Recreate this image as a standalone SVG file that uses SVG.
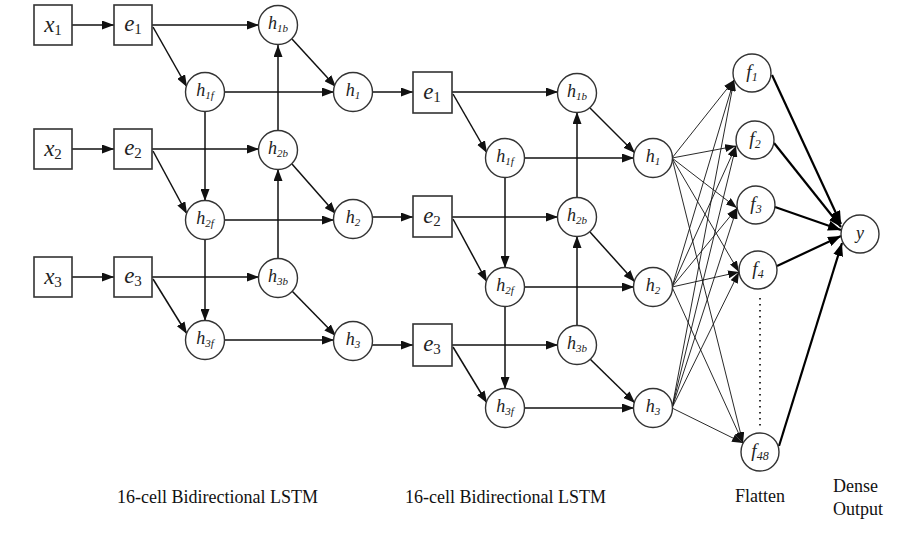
<svg xmlns="http://www.w3.org/2000/svg" width="910" height="537" viewBox="0 0 910 537">
<style>
.bx{fill:#fff;stroke:#333;stroke-width:1.6}
.cr{fill:#fff;stroke:#333;stroke-width:1.4}
.ln{stroke:#111;stroke-width:1.5;fill:none;marker-end:url(#ah)}
.fn{stroke:#111;stroke-width:0.9;fill:none;marker-end:url(#ahs)}
.th{stroke:#000;stroke-width:2.2;fill:none;marker-end:url(#ahb)}
.dt{stroke:#333;stroke-width:2;stroke-dasharray:1.5 4.5;fill:none}
.big{font-family:"Liberation Serif",serif;font-style:italic;font-size:23px;fill:#222}
.bsub{font-family:"Liberation Serif",serif;font-size:15px;fill:#222}
.hl{font-family:"Liberation Serif",serif;font-style:italic;font-size:18px;fill:#222}
.hs{font-family:"Liberation Serif",serif;font-style:italic;font-size:11px;fill:#222}
.fl{font-family:"Liberation Serif",serif;font-style:italic;font-size:19px;fill:#222}
.fs{font-family:"Liberation Serif",serif;font-size:12px;fill:#222}
.lab{font-family:"Liberation Serif",serif;font-size:18px;fill:#111}
</style>
<defs>
<marker id="ah" viewBox="0 0 12 9" refX="12" refY="4.5" markerWidth="12" markerHeight="9" markerUnits="userSpaceOnUse" orient="auto"><path d="M0,0 L12,4.5 L0,9 z" fill="#111"/></marker>
<marker id="ahs" viewBox="0 0 11 8" refX="11" refY="4" markerWidth="11" markerHeight="8" markerUnits="userSpaceOnUse" orient="auto"><path d="M0,0 L11,4 L0,8 z" fill="#111"/></marker>
<marker id="ahb" viewBox="0 0 13 10" refX="13" refY="5" markerWidth="13" markerHeight="10" markerUnits="userSpaceOnUse" orient="auto"><path d="M0,0 L13,5 L0,10 z" fill="#000"/></marker>
</defs>

<g id="connectors">
<line class="ln" x1="72" y1="25" x2="114" y2="25"/>
<line class="ln" x1="72" y1="149" x2="114" y2="149"/>
<line class="ln" x1="72" y1="277" x2="114" y2="277"/>
<line class="ln" x1="152" y1="25" x2="259" y2="25"/>
<line class="ln" x1="152" y1="149" x2="259" y2="149"/>
<line class="ln" x1="152" y1="277" x2="259" y2="277"/>
<line class="ln" x1="153" y1="27" x2="187" y2="87"/>
<line class="ln" x1="153" y1="151" x2="187" y2="214"/>
<line class="ln" x1="153" y1="279" x2="187" y2="334"/>
<line class="ln" x1="205" y1="111" x2="205" y2="201"/>
<line class="ln" x1="205" y1="239" x2="205" y2="321"/>
<line class="ln" x1="278" y1="131" x2="278" y2="45"/>
<line class="ln" x1="278" y1="258" x2="278" y2="169"/>
<line class="ln" x1="292" y1="39" x2="336" y2="87"/>
<line class="ln" x1="292" y1="164" x2="336" y2="214"/>
<line class="ln" x1="292" y1="291" x2="336" y2="336"/>
<line class="ln" x1="224" y1="92" x2="334" y2="92"/>
<line class="ln" x1="224" y1="220" x2="334" y2="220"/>
<line class="ln" x1="224" y1="340" x2="334" y2="340"/>
<line class="ln" x1="372" y1="92" x2="413" y2="92"/>
<line class="ln" x1="372" y1="217" x2="413" y2="217"/>
<line class="ln" x1="372" y1="345" x2="413" y2="345"/>
<line class="ln" x1="452" y1="92" x2="558" y2="92"/>
<line class="ln" x1="452" y1="217" x2="558" y2="217"/>
<line class="ln" x1="452" y1="345" x2="558" y2="345"/>
<line class="ln" x1="453" y1="94" x2="487" y2="153"/>
<line class="ln" x1="453" y1="219" x2="487" y2="282"/>
<line class="ln" x1="453" y1="347" x2="487" y2="403"/>
<line class="ln" x1="505" y1="177" x2="505" y2="268"/>
<line class="ln" x1="505" y1="306" x2="505" y2="389"/>
<line class="ln" x1="577" y1="198" x2="577" y2="112"/>
<line class="ln" x1="577" y1="326" x2="577" y2="236"/>
<line class="ln" x1="590" y1="108" x2="635" y2="153"/>
<line class="ln" x1="590" y1="232" x2="635" y2="282"/>
<line class="ln" x1="590" y1="359" x2="635" y2="403"/>
<line class="ln" x1="524" y1="158" x2="634" y2="158"/>
<line class="ln" x1="524" y1="287" x2="634" y2="287"/>
<line class="ln" x1="524" y1="408" x2="634" y2="408"/>
<line class="fn" x1="672" y1="158" x2="734" y2="80"/>
<line class="fn" x1="672" y1="158" x2="736" y2="146"/>
<line class="fn" x1="672" y1="158" x2="737" y2="208"/>
<line class="fn" x1="672" y1="158" x2="739" y2="272"/>
<line class="fn" x1="672" y1="158" x2="743" y2="443"/>
<line class="fn" x1="672" y1="287" x2="734" y2="80"/>
<line class="fn" x1="672" y1="287" x2="736" y2="146"/>
<line class="fn" x1="672" y1="287" x2="737" y2="208"/>
<line class="fn" x1="672" y1="287" x2="739" y2="272"/>
<line class="fn" x1="672" y1="287" x2="743" y2="443"/>
<line class="fn" x1="672" y1="408" x2="734" y2="80"/>
<line class="fn" x1="672" y1="408" x2="736" y2="146"/>
<line class="fn" x1="672" y1="408" x2="737" y2="208"/>
<line class="fn" x1="672" y1="408" x2="739" y2="272"/>
<line class="fn" x1="672" y1="408" x2="743" y2="443"/>
<line class="th" x1="772" y1="75" x2="841" y2="224"/>
<line class="th" x1="774" y1="143" x2="841" y2="227"/>
<line class="th" x1="775" y1="207" x2="841" y2="230"/>
<line class="th" x1="777" y1="266" x2="841" y2="236"/>
<line class="th" x1="779" y1="446" x2="842" y2="243"/>
<line class="dt" x1="760" y1="298" x2="760" y2="426"/>
</g>

<g id="x1"><rect class="bx" x="34" y="5" width="38" height="40"/><text class="big" x="53" y="32" text-anchor="middle">x<tspan class="bsub" dy="3" font-style="normal">1</tspan></text></g>
<g id="x2"><rect class="bx" x="34" y="129" width="38" height="40"/><text class="big" x="53" y="156" text-anchor="middle">x<tspan class="bsub" dy="3" font-style="normal">2</tspan></text></g>
<g id="x3"><rect class="bx" x="34" y="257" width="38" height="40"/><text class="big" x="53" y="284" text-anchor="middle">x<tspan class="bsub" dy="3" font-style="normal">3</tspan></text></g>
<g id="e1a"><rect class="bx" x="114" y="5" width="38" height="40"/><text class="big" x="133" y="31" text-anchor="middle">e<tspan class="bsub" dy="3" font-style="normal">1</tspan></text></g>
<g id="e2a"><rect class="bx" x="114" y="129" width="38" height="40"/><text class="big" x="133" y="155" text-anchor="middle">e<tspan class="bsub" dy="3" font-style="normal">2</tspan></text></g>
<g id="e3a"><rect class="bx" x="114" y="257" width="38" height="40"/><text class="big" x="133" y="283" text-anchor="middle">e<tspan class="bsub" dy="3" font-style="normal">3</tspan></text></g>
<g id="h1b_a"><circle class="cr" cx="278" cy="25" r="19.5"/><text class="hl" x="278" y="29" text-anchor="middle">h<tspan class="hs" dy="3">1b</tspan></text></g>
<g id="h2b_a"><circle class="cr" cx="278" cy="150" r="19.5"/><text class="hl" x="278" y="154" text-anchor="middle">h<tspan class="hs" dy="3">2b</tspan></text></g>
<g id="h3b_a"><circle class="cr" cx="278" cy="278" r="19.5"/><text class="hl" x="278" y="282" text-anchor="middle">h<tspan class="hs" dy="3">3b</tspan></text></g>
<g id="h1f_a"><circle class="cr" cx="205" cy="92" r="19.5"/><text class="hl" x="205" y="96" text-anchor="middle">h<tspan class="hs" dy="3">1f</tspan></text></g>
<g id="h2f_a"><circle class="cr" cx="205" cy="220" r="19.5"/><text class="hl" x="205" y="224" text-anchor="middle">h<tspan class="hs" dy="3">2f</tspan></text></g>
<g id="h3f_a"><circle class="cr" cx="205" cy="340" r="19.5"/><text class="hl" x="205" y="344" text-anchor="middle">h<tspan class="hs" dy="3">3f</tspan></text></g>
<g id="h1_a"><circle class="cr" cx="353" cy="92" r="19.5"/><text class="hl" x="353" y="96" text-anchor="middle">h<tspan class="hs" dy="3" font-style="normal">1</tspan></text></g>
<g id="h2_a"><circle class="cr" cx="353" cy="219" r="19.5"/><text class="hl" x="353" y="223" text-anchor="middle">h<tspan class="hs" dy="3" font-style="normal">2</tspan></text></g>
<g id="h3_a"><circle class="cr" cx="353" cy="341" r="19.5"/><text class="hl" x="353" y="345" text-anchor="middle">h<tspan class="hs" dy="3" font-style="normal">3</tspan></text></g>

<g id="e1b"><rect class="bx" x="413" y="72" width="39" height="41"/><text class="big" x="432" y="99" text-anchor="middle">e<tspan class="bsub" dy="3" font-style="normal">1</tspan></text></g>
<g id="e2b"><rect class="bx" x="413" y="196" width="39" height="41"/><text class="big" x="432" y="223" text-anchor="middle">e<tspan class="bsub" dy="3" font-style="normal">2</tspan></text></g>
<g id="e3b"><rect class="bx" x="413" y="324" width="39" height="42"/><text class="big" x="432" y="351" text-anchor="middle">e<tspan class="bsub" dy="3" font-style="normal">3</tspan></text></g>
<g id="h1b_b"><circle class="cr" cx="577" cy="93" r="19.5"/><text class="hl" x="577" y="97" text-anchor="middle">h<tspan class="hs" dy="3">1b</tspan></text></g>
<g id="h2b_b"><circle class="cr" cx="577" cy="217" r="19.5"/><text class="hl" x="577" y="221" text-anchor="middle">h<tspan class="hs" dy="3">2b</tspan></text></g>
<g id="h3b_b"><circle class="cr" cx="577" cy="345" r="19.5"/><text class="hl" x="577" y="349" text-anchor="middle">h<tspan class="hs" dy="3">3b</tspan></text></g>
<g id="h1f_b"><circle class="cr" cx="505" cy="158" r="19.5"/><text class="hl" x="505" y="162" text-anchor="middle">h<tspan class="hs" dy="3">1f</tspan></text></g>
<g id="h2f_b"><circle class="cr" cx="505" cy="287" r="19.5"/><text class="hl" x="505" y="291" text-anchor="middle">h<tspan class="hs" dy="3">2f</tspan></text></g>
<g id="h3f_b"><circle class="cr" cx="505" cy="408" r="19.5"/><text class="hl" x="505" y="412" text-anchor="middle">h<tspan class="hs" dy="3">3f</tspan></text></g>
<g id="h1_b"><circle class="cr" cx="653" cy="158" r="19.5"/><text class="hl" x="653" y="162" text-anchor="middle">h<tspan class="hs" dy="3" font-style="normal">1</tspan></text></g>
<g id="h2_b"><circle class="cr" cx="653" cy="287" r="19.5"/><text class="hl" x="653" y="291" text-anchor="middle">h<tspan class="hs" dy="3" font-style="normal">2</tspan></text></g>
<g id="h3_b"><circle class="cr" cx="653" cy="408" r="19.5"/><text class="hl" x="653" y="412" text-anchor="middle">h<tspan class="hs" dy="3" font-style="normal">3</tspan></text></g>

<g id="f1"><circle class="cr" cx="752" cy="73" r="19"/><text class="fl" x="752" y="78" text-anchor="middle">f<tspan class="fs" dy="3">1</tspan></text></g>
<g id="f2"><circle class="cr" cx="755" cy="140" r="19"/><text class="fl" x="755" y="145" text-anchor="middle">f<tspan class="fs" dy="3">2</tspan></text></g>
<g id="f3"><circle class="cr" cx="756" cy="205" r="19"/><text class="fl" x="756" y="210" text-anchor="middle">f<tspan class="fs" dy="3">3</tspan></text></g>
<g id="f4"><circle class="cr" cx="758" cy="270" r="19"/><text class="fl" x="758" y="275" text-anchor="middle">f<tspan class="fs" dy="3">4</tspan></text></g>
<g id="f48"><circle class="cr" cx="760" cy="452" r="19"/><text class="fl" x="760" y="457" text-anchor="middle">f<tspan class="fs" dy="3">48</tspan></text></g>
<g id="y"><circle class="cr" cx="860" cy="234" r="19"/><text class="hl" x="860" y="239" text-anchor="middle">y</text></g>

<g id="labels">
<text class="lab" x="117" y="503">16-cell Bidirectional LSTM</text>
<text class="lab" x="405" y="503">16-cell Bidirectional LSTM</text>
<text class="lab" x="760" y="502" text-anchor="middle">Flatten</text>
<text class="lab" x="833" y="492">Dense</text>
<text class="lab" x="833" y="515">Output</text>
</g>
</svg>
